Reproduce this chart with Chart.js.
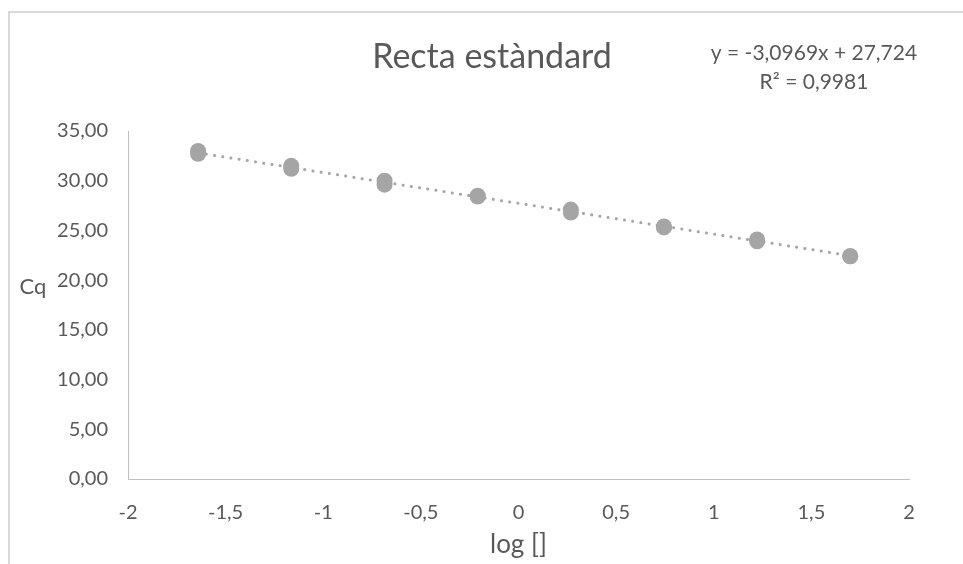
<!DOCTYPE html>
<html>
<head>
<meta charset="utf-8">
<script src="https://cdn.jsdelivr.net/npm/chart.js@4.4.1/dist/chart.umd.min.js"></script>
<style>
  html, body { margin: 0; padding: 0; background: #ffffff; }
  #wrap { width: 963px; height: 564px; position: relative; }
</style>
</head>
<body>
<div id="wrap"><canvas id="c" width="963" height="564"></canvas></div>
<script>
// ---- data ----
const logConc = [-1.641, -1.164, -0.686, -0.209, 0.268, 0.745, 1.222, 1.699];
const cqRep1 = [33.0, 31.5, 30.0, 28.5, 27.1, 25.4, 24.1, 22.4];
const cqRep2 = [32.7, 31.2, 29.6, 28.4, 26.8, 25.3, 23.9, 22.4];
const xTicks = [-2, -1.5, -1, -0.5, 0, 0.5, 1, 1.5, 2];
const yTicks = [0, 5, 10, 15, 20, 25, 30, 35];
const trendSlope = -3.0969;
const trendIntercept = 27.724;
const titleText = 'Recta estàndard';
const eqLine1 = 'y = -3,0969x + 27,724';
const eqLine2 = 'R² = 0,9981';
const xTitle = 'log []';
const yTitle = 'Cq';

const FONT = 'Lato, "Open Sans", sans-serif';
const TXT = '#595959';
const GREY = '#a5a5a5';

const points = [];
logConc.forEach((x, i) => { points.push({x: x, y: cqRep1[i]}); points.push({x: x, y: cqRep2[i]}); });
const xMin = Math.min(...logConc), xMax = Math.max(...logConc);
const trend = [
  {x: xMin, y: trendSlope * xMin + trendIntercept},
  {x: xMax, y: trendSlope * xMax + trendIntercept}
];

const fmt = v => String(v).replace('.', ',');

const decor = {
  id: 'decor',
  beforeDraw(chart) {
    const ctx = chart.ctx;
    ctx.save();
    ctx.fillStyle = '#ffffff';
    ctx.fillRect(0, 0, chart.width, chart.height);
    ctx.strokeStyle = '#d9d9d9';
    ctx.lineWidth = 2;
    ctx.strokeRect(9, 12, 1000, 600);
    ctx.restore();
  },
  afterDraw(chart) {
    const ctx = chart.ctx;
    const xs = chart.scales.x;
    ctx.save();
    ctx.fillStyle = TXT;
    ctx.textAlign = 'center';
    ctx.textBaseline = 'middle';
    ctx.font = '34px ' + FONT;
    ctx.fillText(titleText, 492, 57);
    ctx.font = '21px ' + FONT;
    ctx.fillText(eqLine1, 814, 53);
    ctx.fillText(eqLine2, 814, 82);
    ctx.font = '22px ' + FONT;
    ctx.fillText(yTitle, 33, 287);
    ctx.font = '26px ' + FONT;
    ctx.fillText(xTitle, (xs.left + xs.right) / 2, 545);
    ctx.restore();
  }
};

new Chart(document.getElementById('c'), {
  type: 'scatter',
  data: {
    datasets: [
      {
        label: 'Cq',
        data: points,
        backgroundColor: GREY,
        borderColor: GREY,
        borderWidth: 0,
        pointRadius: 8,
        pointHoverRadius: 8,
        order: 0
      },
      {
        label: 'trend',
        type: 'line',
        data: trend,
        showLine: true,
        borderColor: GREY,
        borderWidth: 3,
        borderDash: [0.1, 8.2],
        borderCapStyle: 'round',
        pointRadius: 0,
        fill: false,
        order: 1
      }
    ]
  },
  options: {
    responsive: false,
    animation: false,
    devicePixelRatio: 1,
    layout: { padding: { left: 0, right: 54, top: 131, bottom: 0 } },
    plugins: { legend: { display: false }, tooltip: { enabled: false }, title: { display: false } },
    scales: {
      x: {
        type: 'linear',
        min: -2, max: 2,
        afterBuildTicks(s) { s.ticks = xTicks.map(v => ({value: v})); },
        afterFit(s) { s.height = 85; },
        grid: { display: false, drawTicks: false },
        border: { display: true, color: '#bfbfbf', width: 1 },
        ticks: { color: TXT, font: { family: FONT, size: 20 }, padding: 22, callback: v => fmt(v) }
      },
      y: {
        type: 'linear',
        min: 0, max: 35,
        afterBuildTicks(s) { s.ticks = yTicks.map(v => ({value: v})); },
        afterFit(s) { s.width = 128; },
        grid: { display: false, drawTicks: false },
        border: { display: true, color: '#bfbfbf', width: 1 },
        ticks: { color: TXT, font: { family: FONT, size: 20 }, padding: 20, callback: v => v.toFixed(2).replace('.', ',') }
      }
    }
  },
  plugins: [decor]
});
</script>
</body>
</html>
